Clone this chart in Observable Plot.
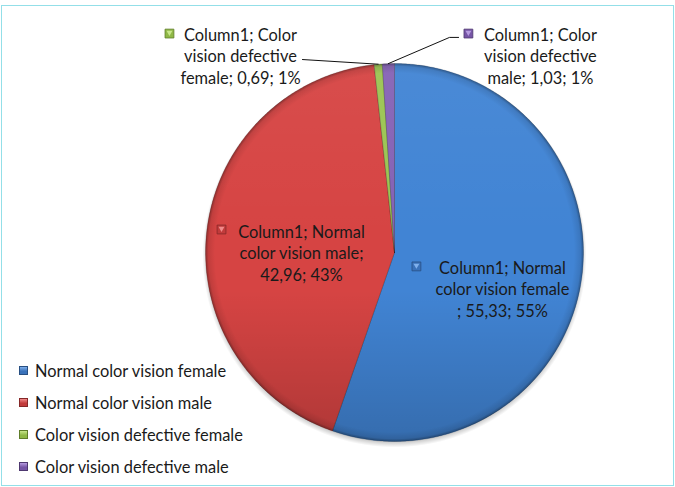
<!DOCTYPE html>
<html><head><meta charset="utf-8">
<script src="https://cdn.jsdelivr.net/npm/d3@7"></script>
<script src="https://cdn.jsdelivr.net/npm/@observablehq/plot@0.6"></script>
<style>
body{margin:0;background:#fff;}
#wrap{position:relative;width:675px;height:487px;font-family:Lato,"Open Sans",sans-serif;overflow:hidden}
#frame{position:absolute;left:1px;top:5px;width:673px;height:481px;border:1.5px solid #93dfe8;box-sizing:border-box;pointer-events:none}
#legend{position:absolute;left:19px;top:354px;font-size:16.4px;color:#1a1a1a}
.row{height:32px;display:flex;align-items:center;white-space:nowrap}
.sw{width:9px;height:9px;margin-right:7px;box-sizing:border-box}
</style></head>
<body>
<div id="wrap"><div id="chart"></div><div id="frame"></div><div id="legend"></div></div>
<script>
// ---- data ----
const seriesName = "Column1";
const categories = ["Normal color vision female","Normal color vision male","Color vision defective female","Color vision defective male"];
const values = [55.33, 42.96, 0.69, 1.03];
const valueTexts = ["55,33","42,96","0,69","1,03"];
const percentTexts = ["55%","43%","1%","1%"];
const labelTexts = [
  "Column1; Normal\ncolor vision female\n; 55,33; 55%",
  "Column1; Normal\ncolor vision male;\n42,96; 43%",
  "Column1; Color\nvision defective\nfemale; 0,69; 1%",
  "Column1; Color\nvision defective\nmale; 1,03; 1%"
];

// ---- style / layout ----
const sliceColors = ["#4184d4","#d64443","#9bc452","#8562b5"];
const markColors = ["#3a72ba","#c23b3b","#8fb846","#7655a6"];
const darkColors = ["#284f82","#852828","#5f7d2a","#4e3870"];
const lightColors = ["#7fb0ec","#f08a8a","#c8e68a","#b79be0"];
const labelAt = [[0.571,-0.19],[-0.492,0],[-0.815,1.042],[0.772,1.042]]; // unit coords
const markerOff = [[-86,-22],[-80,-23],[-71,-22],[-72,-22]];
const elbows = [[], [], [[-0.487,1.021]], [[0.291,1.138],[0.339,1.138]]];

const arcs = d3.pie().sort(null).value(d => d)(values);
const slicePts = arcs.flatMap((a, i) => {
  const pts = [{key: categories[i], x:0, y:0}];
  const n = Math.max(4, Math.ceil((a.endAngle - a.startAngle) / (Math.PI/360)));
  for (let k = 0; k <= n; k++) {
    const t = a.startAngle + (a.endAngle - a.startAngle) * k / n;
    pts.push({key: categories[i], x: Math.sin(t), y: Math.cos(t)});
  }
  pts.push({key: categories[i], x:0, y:0});
  return pts;
});
const labels = arcs.map((a, i) => ({key: categories[i], i, x: labelAt[i][0], y: labelAt[i][1], text: labelTexts[i], mid:(a.startAngle+a.endAngle)/2}));
const leaders = labels.filter(d => elbows[d.i].length).flatMap(d => [
  {i:d.i, x: Math.sin(d.mid), y: Math.cos(d.mid)},
  ...elbows[d.i].map(([x,y]) => ({i:d.i, x, y}))
]);

const chart = Plot.plot({
  width: 675, height: 487,
  marginLeft: 205, marginRight: 92, marginTop: 63, marginBottom: 46,
  x: {domain: [-1, 1], axis: null},
  y: {domain: [-1, 1], axis: null},
  color: {domain: categories, range: sliceColors},
  style: {background: "transparent", fontFamily: "Lato"},
  marks: [
    Plot.dot([0], {x:() => 0, y:() => 0, r:192, dy:3, fill:"url(#shadowGrad)", stroke:"none"}),
    Plot.line(slicePts, {x:"x", y:"y", z:"key", fill:"key", stroke:"#000", strokeOpacity:0.18, strokeWidth:1}),
    Plot.dot([0], {x:() => 0, y:() => 0, r:189, fill:"url(#light)", stroke:"none"}),
    Plot.dot([0], {x:() => 0, y:() => 0, r:189, fill:"url(#rim)", stroke:"none"}),
    Plot.line(leaders, {x:"x", y:"y", z:"i", stroke:"#111", strokeWidth:1}),
    ...labels.map((d, i) => Plot.dot([d], {x:"x", y:"y", symbol:"square", r:5, fill: markColors[i], stroke: darkColors[i], strokeWidth:0.8, dx: markerOff[i][0], dy: markerOff[i][1]})),
    ...labels.map((d, i) => Plot.dot([d], {x:"x", y:"y", symbol:"triangle", rotate:180, r:2.2, fill: lightColors[i], stroke:"none", dx: markerOff[i][0], dy: markerOff[i][1] - 1})),
    Plot.text(labels, {x:"x", y:"y", text:"text", fontSize:16.4, lineHeight:1.31, fill:"#1a1a1a", fontFamily:"Lato"})
  ]
});

const ns = "http://www.w3.org/2000/svg";
const defs = document.createElementNS(ns, "defs");
defs.innerHTML = `
  <linearGradient id="light" x1="0" y1="0" x2="0" y2="1">
    <stop offset="0" stop-color="#fff" stop-opacity="0.05"/>
    <stop offset="0.45" stop-color="#fff" stop-opacity="0"/>
    <stop offset="0.6" stop-color="#000" stop-opacity="0"/>
    <stop offset="1" stop-color="#000" stop-opacity="0.18"/>
  </linearGradient>
  <radialGradient id="rim" cx="0.5" cy="0.5" r="0.5">
    <stop offset="0" stop-color="#000" stop-opacity="0"/>
    <stop offset="0.95" stop-color="#000" stop-opacity="0"/>
    <stop offset="0.985" stop-color="#000" stop-opacity="0.1"/>
    <stop offset="1" stop-color="#000" stop-opacity="0.35"/>
  </radialGradient>
  <radialGradient id="shadowGrad" cx="0.5" cy="0.5" r="0.5">
    <stop offset="0.95" stop-color="#000" stop-opacity="0.35"/>
    <stop offset="1" stop-color="#000" stop-opacity="0"/>
  </radialGradient>`;
chart.insertBefore(defs, chart.firstChild);
document.getElementById("chart").appendChild(chart);

const legend = document.getElementById("legend");
categories.forEach((c, i) => {
  const row = document.createElement("div");
  row.className = "row";
  row.innerHTML = `<div class="sw" style="background:linear-gradient(180deg, ${lightColors[i]}, ${markColors[i]} 60%);border:1px solid ${darkColors[i]}"></div><span>${c}</span>`;
  legend.appendChild(row);
});
</script>
</body></html>
